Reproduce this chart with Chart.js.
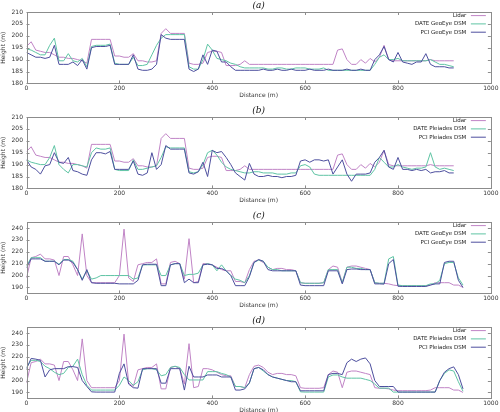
<!DOCTYPE html>
<html>
<head>
<meta charset="utf-8">
<script src="https://cdn.jsdelivr.net/npm/chart.js@4.4.0/dist/chart.umd.min.js"></script>
<style>
  body { margin: 0; background: #fff; }
  #wrap { position: relative; width: 500px; height: 412px; overflow: hidden; background: #fff; }
  #wrap canvas { position: absolute; left: 0; }
</style>
</head>
<body>
<div id="wrap">
  <canvas id="chartA" width="500" height="104" style="top:0px"></canvas>
  <canvas id="chartB" width="500" height="104" style="top:105px"></canvas>
  <canvas id="chartC" width="500" height="104" style="top:210px"></canvas>
  <canvas id="chartD" width="500" height="104" style="top:315px"></canvas>
</div>
<script>
// distance along the profile (m)
var distAB = [0,10,20,30,40,50,60,70,80,90,100,110,120,130,140,150,160,170,180,190,
  200,210,220,230,240,250,260,270,280,290,300,310,320,330,340,350,360,370,380,390,
  400,410,420,430,440,450,460,470,480,490,500,510,520,530,540,550,560,570,580,590,
  600,610,620,630,640,650,660,670,680,690,700,710,720,730,740,750,760,770,780,790,
  800,810,820,830,840,850,860,870,880,890,900,910,920];
var distCD = [0,10,20,30,40,50,60,70,80,90,100,110,120,130,140,150,160,170,180,190,
  200,210,220,230,240,250,260,270,280,290,300,310,320,330,340,350,360,370,380,390,
  400,410,420,430,440,450,460,470,480,490,500,510,520,530,540,550,560,570,580,590,
  600,610,620,630,640,650,660,670,680,690,700,710,720,730,740,750,760,770,780,790,
  800,810,820,830,840,850,860,870,880,890,900,910,920,930,940];

// heights (m), profile of panels a and b
var lidarAB = [195.5,197.5,194,193.5,193,193,192,191,191,190.5,
  190.5,190,189.5,188.5,198.5,198.5,198.5,198.5,198.5,191.5,
  191.5,191,191,192.5,189.5,189.5,189,189,189.5,201,
  203,201,201,201,201,188.5,188,188,188.5,193,
  193.5,193.5,193,187.5,187.5,187.5,188,189.5,188,188,
  188,188,188,188,188,188,188,188,188,188,
  188,188,188,188,188,188,188,194,194.5,190,
  188,188,190,188.5,190.5,189,191,196,190,189.5,
  189.5,189.5,189.5,189.5,189.5,189.5,189.5,190,189.5,189.5,
  189.5,189.5,189.5];
var dateGeoEyeA = [194.5,194,193,192,192,196,199,189.5,189.5,192.5,
  189.5,189,190.5,187,195.5,196,196,196,196.5,188.5,
  188,188,188,191,187.5,187.5,188,192,196,199,
  200.5,200.5,200.5,200.5,200.5,187,186,186,190,196.5,
  194,190.5,190,189.5,188.5,188,187,186.5,186.5,186.5,
  186.5,186.5,186,186,186.5,186.5,186,186,186.5,186.5,
  186.5,186,186,186,186.5,185.5,185.5,185.5,185.5,185.5,
  185.5,185.5,185.5,185.5,185.5,188,191,192,190,190,
  190.5,189.5,189.5,189.5,189.5,189.5,189.5,190,189,188,
  188,187.5,187];
var pciGeoEyeA = [193,192,191,191,190.5,191,196,188,188,188,
  189,187.5,190,186,195,195.5,195.5,195.5,196,188,
  188,188,188,192,186,185.5,185.5,186,188,200.5,
  199,198.5,198.5,198.5,198.5,186,185,186,192,188,
  194,193.5,189,189,187,185.5,185.5,185.5,185.5,185.5,
  185.5,186,185.5,185.5,186,185.5,185.5,186,185.5,185.5,
  185.5,186,185.5,185.5,185.5,186,185.5,185.5,185.5,186,
  185.5,185.5,186,185.5,185.5,190,192,195.5,190,189,
  193,189,188.5,188,189,189,192.5,188,187,187,
  187,186.5,186.5];
var datePleiadesB = [192,191,190.5,190,190,193,198,190,188,186.5,
  190,190,189.5,189,195,197,196.5,196.5,197,188,
  187.5,187.5,187.5,192,188,188,188.5,189,189.5,193,
  197.5,197,197,197,197,187,186.5,187,190,195,
  196,194,191,189,188,187.5,187,186.5,186.5,187,
  187,186.5,186.5,186.5,186,186,186,186.5,186.5,189.5,
  190,189,186,185.5,185.5,185.5,185.5,185.5,185.5,185.5,
  185.5,185.5,185.5,185.5,185.5,188,193,191,189,189,
  190,189,188.5,188,188.5,188.5,189,195,189,188,
  188.5,188,187.5];
var pciPleiadesB = [192,189,188,186,189.5,190,195,191,190.5,193,
  187.5,187,186,185.5,192,195,195,194.5,195.5,188,
  188,188,188,191.5,186,185.5,186.5,195,188,190,
  198,196.5,196.5,196.5,196.5,186.5,186,187,191,185,
  196,195,195.5,193,190,186.5,185,183.5,190.5,186,
  185,185,185.5,185,185,184.5,185,185,185.5,191.5,
  192,191,192,192,191.5,192,186,189,192,186,
  183,186,186,186,186.5,191,193,196,189,188,
  193,188,188,187.5,188,187.5,188,186.5,187,187,
  187.5,186.5,186.5];

// heights (m), profile of panels c and d
var lidarCD = [198,215,216,218,214,214,213,200,216,216,
  209,200,235,200,194,194,194,194,194,194,
  200,239,198,195,209,210,211,211,214,193,
  193,211,212,210,197,231,194,195,210,210,
  209,207,205,204,204,195,195,194,205,212,
  213,211,207,205,206,206,205,205,204,194,
  193.5,193.5,193.5,193.5,194,205,208,207,194,207,
  208,208,207,206,205,194,193.5,193.5,193,192,
  191.5,191.5,191.5,191.5,191.5,191.5,191.5,192,194,194,
  194,194,192,192,190];
var dateGeoEyeC = [208,215,215,215,212,212,212,209.5,213.5,213.5,
  212,205,197,204,197,198,200,200,200,200,
  200,200,200,197,198,209,209,209,209,200,
  200,209,210,210,200,201,201,202,209,210,
  209,204,209,204,200,197,196,194,200,211,
  213,212,207,205,205,204,204,204,204,194,
  193.5,193.5,193.5,193.5,194,205,205,205,194,207,
  207,206,206,205,205,194,193.5,193.5,214,216,
  192,191.5,191.5,191.5,191.5,191.5,191.5,193,193,196,
  210,211,211,198,192];
var pciGeoEyeC = [206.5,214,214,214,212,212,212,209,213,213,
  211,205,196,205,194,193.5,193.5,193.5,193.5,193.5,
  193,193,193,193,196,209,209.5,209.5,209.5,191.5,
  191.5,209,210,210,194,197,194,194,209,209.5,
  209,206,206,204,200,191.5,191.5,191.5,199,211,
  213.5,212,205,204,204,204,204,204,204,192,
  191.5,191.5,191.5,191.5,191.5,204,204,204,193,205,
  205.5,205.5,205,205,205,193,193,192.8,210,213.5,
  191,190.8,190.8,190.8,190.8,190.8,190.8,192,193,193,
  211,212,212,196,190];
var datePleiadesD = [211,217,217,216,212,210,207,205,206,211,
  212,218,205,196,192,192,192,192,192,192,
  196,203,200,196,199,209,210,210,209,204,
  205,211,212,211,205,200.5,200.5,200.5,200.5,207.5,
  207.5,207.5,206,205,203,195,195,194,198,210,
  211,208,205,203,202,201,200,200,199,190.5,
  190.3,190.3,190.3,190.3,190.3,203,204.7,204.7,203,202,
  202,202,202,201,200,197,193.6,193.6,193.6,190.3,
  190.3,190.3,190.3,190.3,190.3,190.3,190.3,190.3,190.3,200,
  206,209,208,199,191];
var pciPleiadesD = [210,218.6,218,217,203,209,210,210,210,211.7,
  211.7,211,200,195,190.5,190.3,190.3,190.3,190.3,190.3,
  206,214,197,194,193.6,210,210,210,210,197.8,
  197.8,210,210,210,192,212,203,203,203,204.7,
  204.7,204.7,203,203,203,192,192,193,198,210,
  211,209,205,203,202,201,200,199,199,191.4,
  191.4,191.4,191.4,191.4,191.4,205,206,206,205,215,
  218,216,218,219,214,200,195,195,195,195,
  190.3,190.3,190.3,190.3,190.3,190.3,190.3,190.3,190.3,200,
  207,210,211.5,205,193];

var namesGeoEye = ['Lidar', 'DATE GeoEye DSM', 'PCI GeoEye DSM'];
var namesPleiades = ['Lidar', 'DATE Pleiades DSM', 'PCI Pleiades DSM'];
var xTicks = [0, 200, 400, 600, 800, 1000];
var yTicksAB = [180, 185, 190, 195, 200, 205, 210];
var yTicksCD = [190, 200, 210, 220, 230, 240];

var lineColors = ['#c084c6', '#5fc4a4', '#4d4f9e'];
var tickFont = { family: 'DejaVu Sans', size: 6 };

// gnuplot-like frame with inward ticks on all four sides
var framePlugin = {
  id: 'frame',
  afterDatasetsDraw: function (chart) {
    var ctx = chart.ctx, a = chart.chartArea;
    var xs = chart.scales.x, ys = chart.scales.y;
    ctx.save();
    ctx.strokeStyle = '#8c8c8c';
    ctx.lineWidth = 1;
    ctx.strokeRect(Math.round(a.left) + 0.5, Math.round(a.top) + 0.5,
      Math.round(a.right - a.left), Math.round(a.bottom - a.top));
    ctx.beginPath();
    xs.ticks.forEach(function (t) {
      var px = Math.round(xs.getPixelForValue(t.value)) + 0.5;
      ctx.moveTo(px, a.bottom); ctx.lineTo(px, a.bottom - 3);
      ctx.moveTo(px, a.top); ctx.lineTo(px, a.top + 3);
    });
    ys.ticks.forEach(function (t) {
      var py = Math.round(ys.getPixelForValue(t.value)) + 0.5;
      ctx.moveTo(a.left, py); ctx.lineTo(a.left + 3, py);
      ctx.moveTo(a.right, py); ctx.lineTo(a.right - 3, py);
    });
    ctx.stroke();
    ctx.restore();
  }
};

// key in the top right corner, text right-aligned with sample line after it
var keyPlugin = {
  id: 'key',
  afterDraw: function (chart) {
    var ctx = chart.ctx, a = chart.chartArea;
    ctx.save();
    ctx.font = '5.5px "DejaVu Sans"';
    ctx.textAlign = 'right';
    ctx.textBaseline = 'middle';
    chart.data.datasets.forEach(function (ds, i) {
      var y = a.top + 3.6 + i * 8.3;
      ctx.fillStyle = '#222';
      ctx.fillText(ds.label, a.right - 24.5, y);
      ctx.strokeStyle = ds.borderColor;
      ctx.lineWidth = 1;
      ctx.beginPath();
      ctx.moveTo(a.right - 20, y);
      ctx.lineTo(a.right - 5, y);
      ctx.stroke();
    });
    ctx.restore();
  }
};

function points(dist, vals) {
  return dist.map(function (d, i) { return { x: d, y: vals[i] }; });
}

function makeChart(id, panel, dist, series, names, yMin, yMax, yTicks) {
  new Chart(document.getElementById(id), {
    type: 'line',
    data: {
      datasets: series.map(function (vals, i) {
        return {
          label: names[i],
          data: points(dist, vals),
          borderColor: lineColors[i],
          borderWidth: 1,
          pointRadius: 0,
          tension: 0,
          fill: false,
          order: 2 - i
        };
      })
    },
    options: {
      responsive: false,
      animation: false,
      layout: { padding: { top: 0, right: 7, bottom: 0, left: 0 } },
      plugins: {
        legend: { display: false },
        tooltip: { enabled: false },
        title: {
          display: true,
          text: panel,
          fullSize: false,
          color: '#111',
          font: { family: 'DejaVu Serif', size: 9, style: 'italic', weight: 'normal' },
          padding: { top: 0.6, bottom: 0.6 }
        }
      },
      scales: {
        x: {
          type: 'linear',
          min: 0,
          max: 1000,
          afterBuildTicks: function (s) { s.ticks = xTicks.map(function (v) { return { value: v }; }); },
          afterFit: function (s) { s.height = 20.6; },
          grid: { display: false, drawTicks: false },
          border: { display: false },
          ticks: {
            font: tickFont, color: '#333', padding: 1.5, maxRotation: 0, autoSkip: false,
            callback: function (v) { return String(v); }
          },
          title: { display: true, text: 'Distance (m)', color: '#333', font: tickFont, padding: { top: 0, bottom: 5.4 } }
        },
        y: {
          min: yMin,
          max: yMax,
          afterBuildTicks: function (s) { s.ticks = yTicks.map(function (v) { return { value: v }; }); },
          afterFit: function (s) { s.width = 26.5; },
          grid: { display: false, drawTicks: false },
          border: { display: false },
          ticks: {
            font: tickFont, color: '#333', padding: 3.5, autoSkip: false,
            callback: function (v) { return String(v); }
          },
          title: { display: true, text: 'Height (m)', color: '#333', font: tickFont, padding: { top: 0.2, bottom: 0 } }
        }
      }
    },
    plugins: [framePlugin, keyPlugin]
  });
}

makeChart('chartA', '(a)', distAB, [lidarAB, dateGeoEyeA, pciGeoEyeA], namesGeoEye, 180, 210, yTicksAB);
makeChart('chartB', '(b)', distAB, [lidarAB, datePleiadesB, pciPleiadesB], namesPleiades, 180, 210, yTicksAB);
makeChart('chartC', '(c)', distCD, [lidarCD, dateGeoEyeC, pciGeoEyeC], namesGeoEye, 185, 245, yTicksCD);
makeChart('chartD', '(d)', distCD, [lidarCD, datePleiadesD, pciPleiadesD], namesPleiades, 185, 245, yTicksCD);
</script>
</body>
</html>
